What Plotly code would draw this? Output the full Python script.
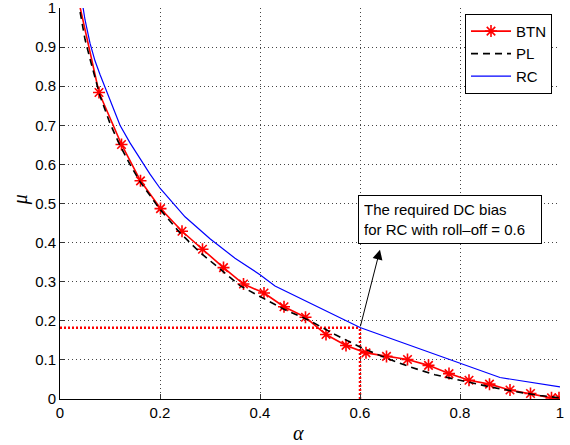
import plotly.graph_objects as go

# ---- data ----
btn_alpha = [0.037, 0.078, 0.123, 0.161, 0.201, 0.244, 0.285, 0.327, 0.367, 0.408, 0.448,
             0.491, 0.532, 0.572, 0.612, 0.653, 0.695, 0.737, 0.778, 0.818, 0.859,
             0.900, 0.941, 0.983, 0.998]
btn_mu = [1.02, 0.784, 0.651, 0.558, 0.487, 0.429, 0.383, 0.336, 0.294, 0.271, 0.236,
          0.209, 0.165, 0.137, 0.118, 0.109, 0.101, 0.086, 0.065, 0.048, 0.038,
          0.023, 0.014, 0.003, 0.003]

pl_alpha = [0.036, 0.05, 0.06, 0.07, 0.08, 0.10, 0.12, 0.14, 0.16, 0.20, 0.24, 0.28, 0.32,
            0.36, 0.40, 0.447, 0.50, 0.55, 0.60, 0.65, 0.70, 0.75, 0.80, 0.86, 0.91,
            0.96, 1.00]
pl_mu = [1.02, 0.92, 0.87, 0.82, 0.775, 0.705, 0.648, 0.60, 0.556, 0.485, 0.425, 0.375,
         0.332, 0.290, 0.262, 0.230, 0.200, 0.165, 0.133, 0.106, 0.082, 0.062, 0.048,
         0.031, 0.019, 0.009, 0.003]

rc_alpha = [0.045, 0.05, 0.06, 0.07, 0.08, 0.09, 0.10, 0.12, 0.14, 0.16, 0.18, 0.20, 0.25,
            0.30, 0.35, 0.40, 0.43, 0.60, 0.88, 1.00]
rc_mu = [1.01, 0.97, 0.91, 0.865, 0.83, 0.797, 0.765, 0.70, 0.655, 0.615, 0.575, 0.539,
         0.466, 0.41, 0.36, 0.318, 0.289, 0.183, 0.055, 0.031]

dc_alpha = 0.6
dc_mu = 0.182

x_ticks = [0, 0.2, 0.4, 0.6, 0.8, 1]
x_labels = ["0", "0.2", "0.4", "0.6", "0.8", "1"]
y_ticks = [0, 0.1, 0.2, 0.3, 0.4, 0.5, 0.6, 0.7, 0.8, 0.9, 1]
y_labels = ["0", "0.1", "0.2", "0.3", "0.4", "0.5", "0.6", "0.7", "0.8", "0.9", "1"]

FONT = "Liberation Sans, Arial, Helvetica, sans-serif"

fig = go.Figure()

# red dotted guide lines
fig.add_trace(go.Scatter(x=[0, dc_alpha], y=[dc_mu, dc_mu], mode="lines",
                         line=dict(color="red", width=2.5, dash="2px,2px"),
                         showlegend=False, hoverinfo="skip"))
fig.add_trace(go.Scatter(x=[dc_alpha, dc_alpha], y=[0, dc_mu], mode="lines",
                         line=dict(color="red", width=2.5, dash="2px,2px"),
                         showlegend=False, hoverinfo="skip"))

fig.add_trace(go.Scatter(x=btn_alpha, y=btn_mu, mode="lines+markers", name="BTN",
                         line=dict(color="red", width=1.6),
                         marker=dict(symbol="asterisk", size=10,
                                     line=dict(color="red", width=1.6), color="red")))
fig.add_trace(go.Scatter(x=pl_alpha, y=pl_mu, mode="lines", name="PL",
                         line=dict(color="black", width=1.6, dash="7px,5px")))
fig.add_trace(go.Scatter(x=rc_alpha, y=rc_mu, mode="lines", name="RC",
                         line=dict(color="blue", width=1.2)))

axis_common = dict(
    showline=True, linecolor="black", linewidth=1, mirror=False,
    showgrid=True, gridcolor="#444", griddash="1px,3px", gridwidth=1,
    zeroline=False, ticks="inside", ticklen=5, tickcolor="#333", tickwidth=1,
    tickfont=dict(family=FONT, size=15, color="black"),
    automargin=False, ticklabeloverflow="allow",
)

fig.update_layout(
    width=570, height=445,
    margin=dict(l=60, r=10, t=8, b=46),
    paper_bgcolor="white", plot_bgcolor="white",
    xaxis=dict(range=[0, 1], tickvals=x_ticks, ticktext=x_labels, **axis_common),
    yaxis=dict(range=[0, 1], tickvals=y_ticks, ticktext=y_labels, **axis_common),
    legend=dict(x=0.984, y=0.985, xanchor="right", yanchor="top",
                bordercolor="black", borderwidth=1, bgcolor="white",
                font=dict(family=FONT, size=15, color="black"),
                tracegroupgap=0, itemwidth=40),
    showlegend=True,
)

# text box
fig.add_annotation(x=0.78, y=0.458, xref="x", yref="y", showarrow=False,
                   text="The required DC bias<br>for RC with roll\u2013off = 0.6",
                   align="left", width=172, font=dict(family=FONT, size=15, color="black"),
                   bordercolor="black", borderwidth=1, borderpad=5, bgcolor="white")
# arrow
fig.add_annotation(x=0.64, y=0.382, xref="x", yref="y", ax=dc_alpha, ay=dc_mu,
                   axref="x", ayref="y", text="", showarrow=True, arrowhead=2,
                   arrowsize=2, arrowwidth=1, arrowcolor="black")

# axis labels
fig.add_annotation(x=0.476, y=-0.087, xref="paper", yref="paper", showarrow=False,
                   text="<i>\u03b1</i>", font=dict(family="Liberation Serif, serif", size=20, color="black"),
                   xanchor="center", yanchor="middle")
fig.add_annotation(x=-0.08, y=0.508, xref="paper", yref="paper", showarrow=False,
                   text="<i>\u03bc</i>", textangle=-90,
                   font=dict(family="Liberation Serif, serif", size=20, color="black"),
                   xanchor="center", yanchor="middle")

fig.write_html("out.html", config={"displayModeBar": False},
               post_script="document.body.style.margin='0';document.body.style.overflow='hidden';")
